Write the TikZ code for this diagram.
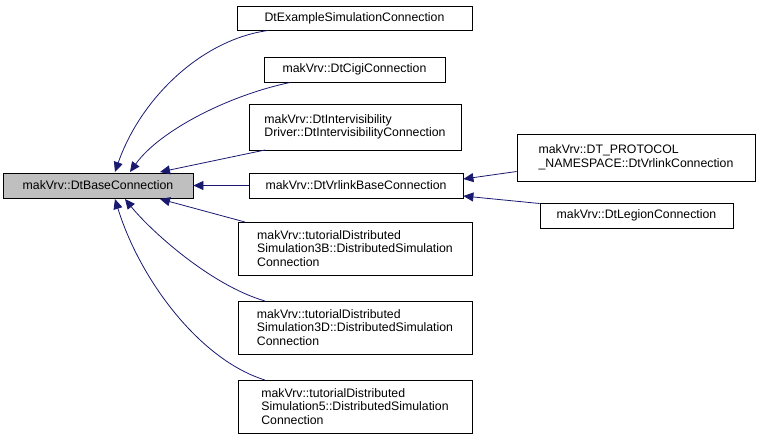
\documentclass[tikz,border=0pt]{standalone}
\usepackage{fontspec}
\setmainfont{Liberation Sans}
\usetikzlibrary{arrows.meta}
\begin{document}
\begin{tikzpicture}[x=1pt,y=-1pt,
  box/.style={draw=black,fill=white,line width=0.8pt,inner sep=0pt,align=center,font=\fontsize{12.3}{13.5}\selectfont},
  edge/.style={draw=midnightblue,line width=0.8pt,-{Triangle[length=10pt,width=9pt,fill=midnightblue]}}]
\definecolor{midnightblue}{RGB}{25,25,112}
\useasboundingbox (0,0) rectangle (760,445);
\node[box,fill=black!25,minimum width=190,minimum height=25] (base) at (98,185.5) {makVrv::DtBaseConnection};
\node[box,minimum width=235,minimum height=24] (ex) at (354.5,18) {DtExampleSimulationConnection};
\node[box,minimum width=181,minimum height=25] (cigi) at (354.5,69.5) {makVrv::DtCigiConnection};
\node[box,minimum width=212,minimum height=46,align=left] (iv) at (355,127) {makVrv::DtIntervisibility\\Driver::DtIntervisibilityConnection};
\node[box,minimum width=214,minimum height=25] (vr) at (356,185.5) {makVrv::DtVrlinkBaseConnection};
\node[box,minimum width=234,minimum height=53,align=left] (t3b) at (355,248.5) {makVrv::tutorialDistributed\\Simulation3B::DistributedSimulation\\Connection};
\node[box,minimum width=234,minimum height=53,align=left] (t3d) at (355,327.5) {makVrv::tutorialDistributed\\Simulation3D::DistributedSimulation\\Connection};
\node[box,minimum width=234,minimum height=53,align=left] (t5) at (355,406.5) {makVrv::tutorialDistributed\\Simulation5::DistributedSimulation\\Connection};
\node[box,minimum width=238,minimum height=47,align=left] (dtp) at (636,157.5) {makVrv::DT\_PROTOCOL\\\_NAMESPACE::DtVrlinkConnection};
\node[box,minimum width=193,minimum height=25] (leg) at (636.5,215.5) {makVrv::DtLegionConnection};
\coordinate (a1) at (268,30.5);
\coordinate (a2) at (290,82.5);
\coordinate (a3) at (265,150);
\coordinate (a4) at (245,222);
\coordinate (a5) at (265,301);
\coordinate (a6) at (265,380);
\draw[edge] (a1) .. controls (200,40) and (140,100) .. (115,172);
\draw[edge] (a2) .. controls (230,95) and (160,130) .. (130,172);
\draw[edge] (a3) -- (160,172);
\draw[edge] (vr.west) -- (base.east);
\draw[edge] (a4) -- (160,199);
\draw[edge] (a5) .. controls (210,285) and (150,230) .. (125,199);
\draw[edge] (a6) .. controls (200,360) and (140,280) .. (115,199);
\draw[edge] (dtp.west) ++(0,14) coordinate (b1) (b1) -- (vr.east |- 0,179);
\draw[edge] (leg.west) ++(0,-12) coordinate (b2) (b2) -- (vr.east |- 0,196);
\end{tikzpicture}
\end{document}
